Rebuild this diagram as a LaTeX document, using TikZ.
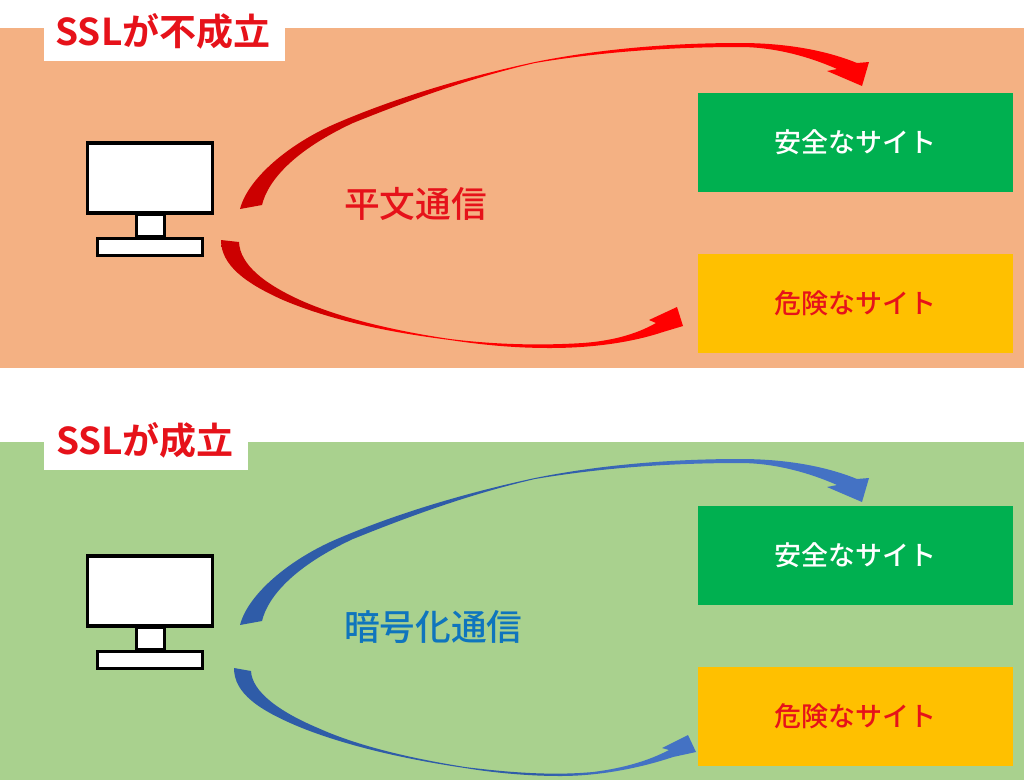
\documentclass[tikz,border=0pt]{standalone}
\usepackage{fontspec}
\setmainfont{Noto Sans CJK JP}[BoldFont={Noto Sans CJK JP Bold}]
\newfontfamily\midfont{Noto Sans CJK JP Medium}
\definecolor{panelA}{HTML}{F4B183}
\definecolor{panelB}{HTML}{A9D18E}
\definecolor{safe}{HTML}{00B050}
\definecolor{risk}{HTML}{FFC000}
\definecolor{redtxt}{HTML}{E6121A}
\definecolor{bluetxt}{HTML}{0F75BD}
\definecolor{arrowred}{HTML}{FF0000}
\definecolor{darkred}{HTML}{CC0000}
\definecolor{arrowblue}{HTML}{4472C4}
\definecolor{darkblue}{HTML}{2F5CA8}
\pgfdeclarehorizontalshading{redup}{100bp}{color(0bp)=(darkred); color(38bp)=(darkred); color(46bp)=(arrowred); color(100bp)=(arrowred)}
\pgfdeclarehorizontalshading{redlow}{100bp}{color(0bp)=(darkred); color(35bp)=(darkred); color(44bp)=(arrowred); color(100bp)=(arrowred)}
\pgfdeclarehorizontalshading{blueup}{100bp}{color(0bp)=(darkblue); color(50bp)=(darkblue); color(60bp)=(arrowblue); color(100bp)=(arrowblue)}
\pgfdeclarehorizontalshading{bluelow}{100bp}{color(0bp)=(darkblue); color(58bp)=(darkblue); color(66bp)=(arrowblue); color(100bp)=(arrowblue)}
\tikzset{
  box/.style={draw=none,inner sep=0pt,outer sep=0pt,minimum width=315pt,minimum height=99pt,font=\midfont\fontsize{27}{27}\selectfont},
  safebox/.style={box,fill=safe,text=white},
  riskbox/.style={box,fill=risk,text=redtxt},
  tag/.style={inner sep=0pt,outer sep=0pt,text=redtxt,font=\bfseries\fontsize{37}{37}\selectfont},
  tagback/.style={fill=white,inner sep=0pt,outer sep=0pt},
  caption/.style={inner sep=0pt,outer sep=0pt,font=\midfont\fontsize{35.7}{36}\selectfont},
  screen/.style={draw=black,line width=3.4pt,fill=white,inner sep=0pt,outer sep=0pt},
  panel/.style={inner sep=0pt,outer sep=0pt,minimum width=1024pt},
}
\newcommand{\upperarrow}[2]{%
  \path[shading=#2,shading angle=0]
    (240,#1+209) .. controls (248,#1+178) and (290,#1+143) .. (337,#1+123)
    .. controls (400,#1+96) and (470,#1+76) .. (535,#1+62)
    .. controls (600,#1+49) and (670,#1+43) .. (740,#1+43)
    .. controls (785,#1+43) and (825,#1+50) .. (857,#1+63)
    -- (869,#1+62) -- (862,#1+86) -- (827,#1+71) -- (837,#1+69)
    .. controls (810,#1+57) and (775,#1+47) .. (740,#1+47)
    .. controls (670,#1+47) and (600,#1+52) .. (535,#1+63)
    .. controls (470,#1+78) and (410,#1+100) .. (353,#1+123)
    .. controls (295,#1+150) and (268,#1+180) .. (262,#1+205) -- cycle;}
\begin{document}
\begin{tikzpicture}[x=1pt,y=-1pt]
\useasboundingbox (0,0) rectangle (1024,782);
% panels
\node[panel,fill=panelA,minimum height=340pt] (panelTop) at (512,198) {};
\node[panel,fill=panelB,minimum height=338pt] (panelBot) at (512,611) {};
% tags
\node[tagback,minimum width=241pt,minimum height=41pt] (tagTopBg) at (164.5,40.5) {};
\node[tag] (tagTop) at (163,31) {SSLが不成立};
\node[tagback,minimum width=204pt,minimum height=33pt] (tagBotBg) at (146,453.5) {};
\node[tag] (tagBot) at (145,440) {SSLが成立};
% top monitor
\node[screen,minimum width=125pt,minimum height=70pt] (monA) at (150,178) {};
\node[screen,minimum width=28pt,minimum height=22pt] (neckA) at (150.5,225.5) {};
\node[screen,minimum width=105pt,minimum height=17pt] (baseA) at (150,247) {};
% bottom monitor
\node[screen,minimum width=125pt,minimum height=70pt] (monB) at (150,591) {};
\node[screen,minimum width=28pt,minimum height=22pt] (neckB) at (150.5,638.5) {};
\node[screen,minimum width=105pt,minimum height=17pt] (baseB) at (150,660) {};
% site boxes
\node[safebox] (safeA) at (855.5,142) {安全なサイト};
\node[riskbox] (riskA) at (855.5,303.5) {危険なサイト};
\node[safebox] (safeB) at (855.5,555) {安全なサイト};
\node[riskbox] (riskB) at (855.5,716.5) {危険なサイト};
% captions
\node[caption,text=redtxt,anchor=west] (plain) at (344,204) {平文通信};
\node[caption,text=bluetxt,anchor=west] (cipher) at (344,627) {暗号化通信};
% upper arrows
\upperarrow{0}{redup}
\upperarrow{416}{blueup}
% lower arrows
\path[shading=redlow,shading angle=0]
  (221,240) .. controls (221,265) and (245,283) .. (283,300)
  .. controls (335,322) and (395,333) .. (450,340)
  .. controls (483,345) and (515,348) .. (550,348)
  .. controls (590,348) and (630,343) .. (663,332)
  -- (683,326) -- (677,307) -- (649,320) -- (656,323)
  .. controls (635,335) and (610,341) .. (583,343)
  .. controls (535,346) and (490,344) .. (450,339)
  .. controls (395,331) and (340,318) .. (300,300)
  .. controls (265,284) and (240,265) .. (239,242) -- cycle;
\path[shading=bluelow,shading angle=0]
  (234,668) .. controls (234,693) and (258,710) .. (302,728)
  .. controls (350,747) and (410,760) .. (465,768)
  .. controls (495,773) and (530,776) .. (560,776)
  .. controls (600,776) and (640,768) .. (673,757)
  -- (696,752) -- (688,735) -- (662,748) -- (669,750)
  .. controls (650,760) and (625,768) .. (593,772)
  .. controls (550,776) and (505,772) .. (465,767)
  .. controls (415,759) and (360,747) .. (318,728)
  .. controls (280,712) and (252,692) .. (251,671) -- cycle;
\end{tikzpicture}
\end{document}
